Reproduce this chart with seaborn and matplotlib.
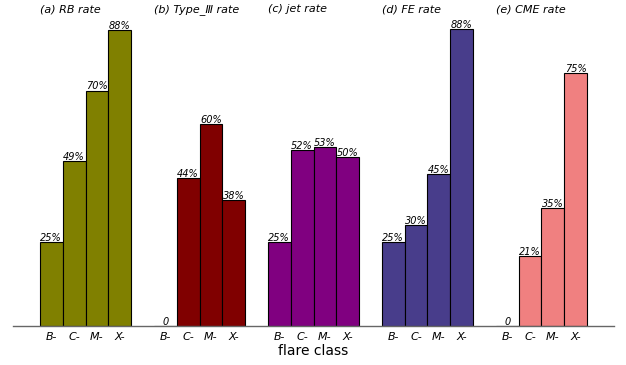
import matplotlib
matplotlib.use("Agg")
import matplotlib.pyplot as plt
import seaborn as sns
import pandas as pd
import numpy as np

classes = ["B-", "C-", "M-", "X-"]
groups = ["(a) RB rate", "(b) Type_Ⅲ rate", "(c) jet rate", "(d) FE rate", "(e) CME rate"]
rb_rate = [0.25, 0.49, 0.70, 0.880]
type3_rate = [0.0, 0.44, 0.60, 0.375]
jet_rate = [0.25, 0.524, 0.533, 0.503]
fe_rate = [0.25, 0.30, 0.452, 0.884]
cme_rate = [0.0, 0.208, 0.351, 0.753]
colors = ["#808000", "#800000", "#800080", "#483D8B", "#F08080"]

series = [rb_rate, type3_rate, jet_rate, fe_rate, cme_rate]

rows = []
for g, (name, vals) in enumerate(zip(groups, series)):
    for i, (c, v) in enumerate(zip(classes, vals)):
        rows.append({"pos": g * 5 + i, "rate": v, "group": name, "cls": c})
df = pd.DataFrame(rows)

sns.set_style("white")
plt.rcParams["font.family"] = ["DejaVu Sans"]
plt.rcParams["text.color"] = "black"
plt.rcParams["xtick.color"] = "black"
plt.rcParams["axes.labelcolor"] = "black"

fig = plt.figure(figsize=(6.26, 3.65), dpi=100)
ax = fig.add_axes([13 / 626, 39 / 365, 601 / 626, 326 / 365])

sns.barplot(data=df, x="pos", y="rate", hue="group", palette=colors,
            native_scale=True, dodge=False, width=1.0, edgecolor="black",
            linewidth=0.8, saturation=1, legend=False, ax=ax)

ax.set_xlim(-1.68, 24.68)
ax.set_ylim(0, 0.97)

for _, r in df.iterrows():
    lab = "0" if r["rate"] == 0 else f"{round(r['rate'] * 100)}%"
    ax.text(r["pos"], r["rate"] - 0.002, lab, ha="center", va="bottom",
            fontsize=7, fontstyle="italic", color="black")

for g, name in enumerate(groups):
    ax.text(g * 5 - 0.5, 0.943, name, ha="left", va="center",
            fontsize=8, fontstyle="italic", color="black")

ax.set_xticks(df["pos"].tolist())
ax.set_xticklabels(df["cls"].tolist(), fontsize=8, fontstyle="italic")
ax.tick_params(axis="x", length=0, pad=4, colors="black")
ax.set_yticks([])
ax.set_ylabel("")
ax.set_xlabel("flare class", fontsize=10, labelpad=2, color="black")
for s in ["top", "left", "right"]:
    ax.spines[s].set_visible(False)
ax.spines["bottom"].set_color("0.4")
ax.spines["bottom"].set_linewidth(1.0)

fig.savefig("out.png", dpi=100)
